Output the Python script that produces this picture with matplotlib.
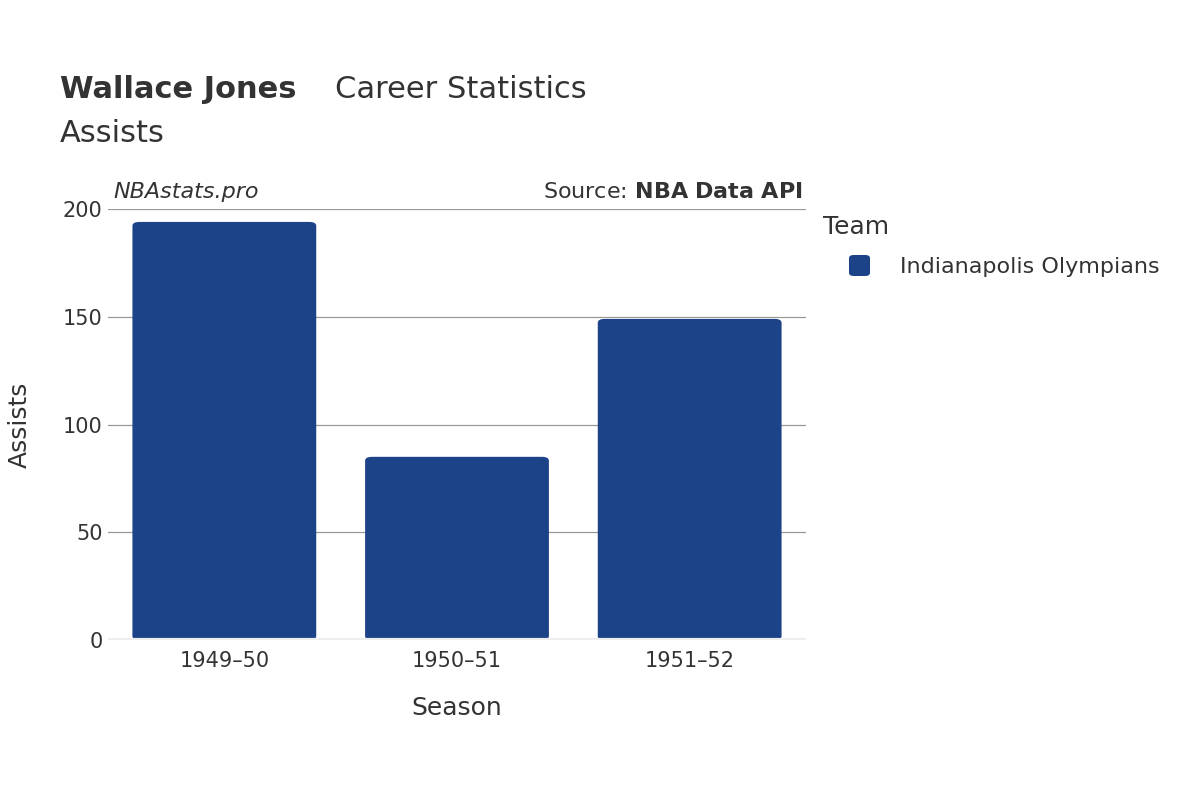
import matplotlib.pyplot as plt
from matplotlib.patches import FancyBboxPatch

seasons = ["1949–50", "1950–51", "1951–52"]
assists = [194, 85, 149]
team = "Indianapolis Olympians"
color = "#1c4288"

plt.rcParams["font.family"] = "DejaVu Sans"
fig = plt.figure(figsize=(12, 8), dpi=100)
ax = fig.add_axes([108 / 1200, 1 - 640 / 800, 698 / 1200, 431 / 800])

ax.set_xlim(-0.5, 2.5)
ax.set_ylim(0, 200)
width = 0.79
for i, v in enumerate(assists):
    ax.add_patch(FancyBboxPatch((i - width / 2, 0), width, v,
                                boxstyle="round,pad=0,rounding_size=0.03",
                                mutation_aspect=60, fc=color, ec="none", zorder=3))

ax.set_yticks([0, 50, 100, 150, 200])
ax.grid(axis="y", color="#999999", lw=0.9, zorder=0)
ax.axhline(0, color="#eeeeee", lw=3, zorder=4)
for s in ax.spines.values():
    s.set_visible(False)
ax.set_xticks(range(3))
ax.set_xticklabels(seasons)
ax.tick_params(axis="both", length=0, labelsize=15, colors="#333333", pad=8)
ax.tick_params(axis="y", pad=4)
ax.set_xlabel("Season", fontsize=18, color="#333333", labelpad=18)
ax.set_ylabel("Assists", fontsize=18, color="#333333", labelpad=22)

fig.text(60 / 1200, 1 - 90 / 800, "Wallace Jones", fontsize=22, fontweight="bold",
         color="#333333", va="center")
fig.text(335 / 1200, 1 - 90 / 800, "Career Statistics", fontsize=22, color="#333333", va="center")
fig.text(60 / 1200, 1 - 133 / 800, "Assists", fontsize=22, color="#333333", va="center")
fig.text(113 / 1200, 1 - 192 / 800, "NBAstats.pro", fontsize=16, style="italic",
         color="#333333", va="center")
fig.text(803 / 1200, 1 - 192 / 800, "Source: $\\bf{NBA\\ Data\\ API}$", fontsize=16,
         color="#333333", va="center", ha="right")

fig.text(823 / 1200, 1 - 227 / 800, "Team", fontsize=18, color="#333333", va="center")
fig.patches.append(FancyBboxPatch((849 / 1200, 1 - 276 / 800), 21 / 1200, 21 / 800,
                                  boxstyle="round,pad=0,rounding_size=0.004",
                                  transform=fig.transFigure, fc=color, ec="none"))
fig.text(900 / 1200, 1 - 267 / 800, team, fontsize=16, color="#333333", va="center")

fig.savefig("out.png")
